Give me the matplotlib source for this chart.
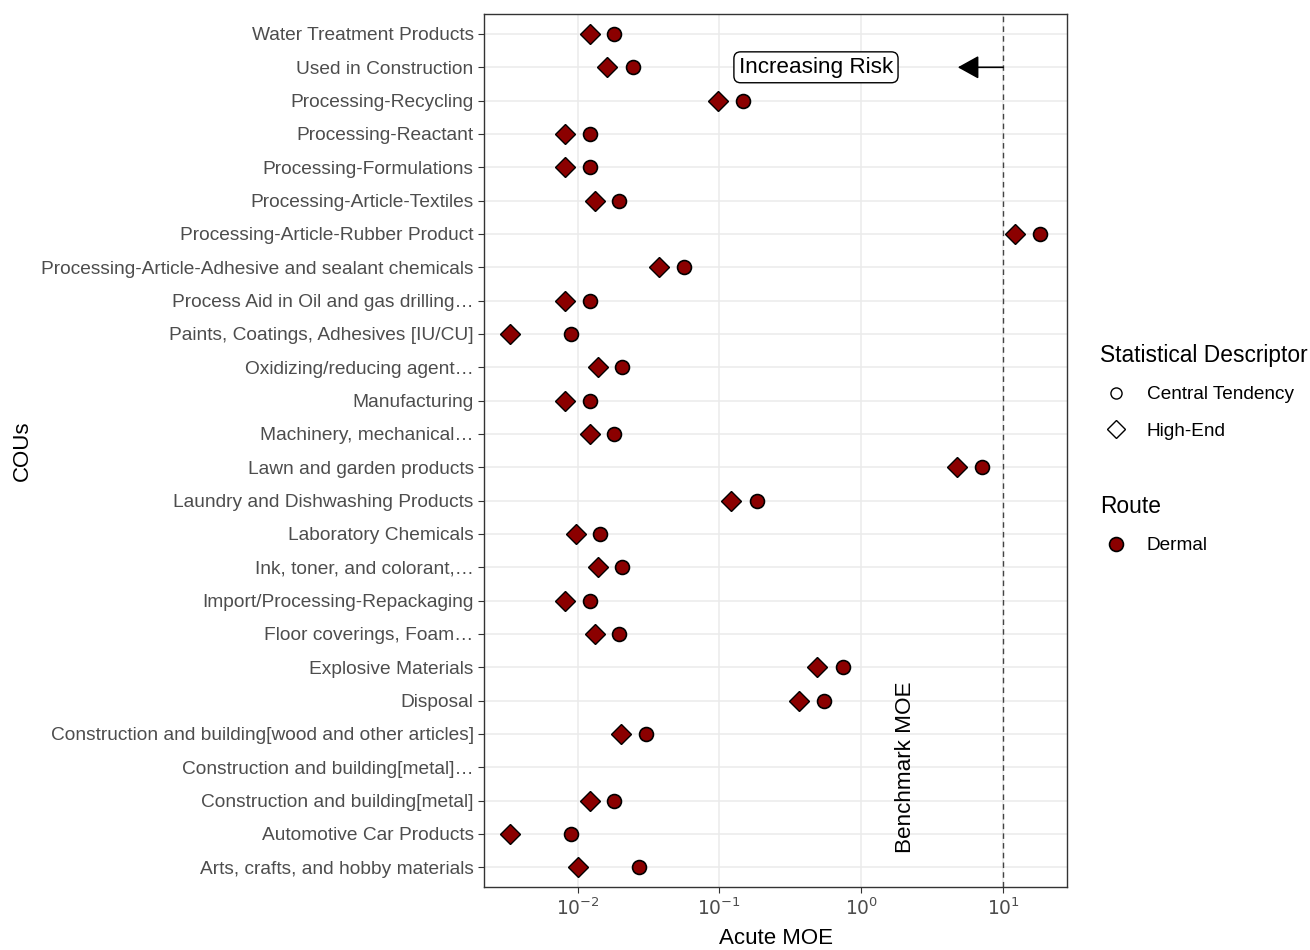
import numpy as np
import matplotlib.pyplot as plt
from matplotlib.lines import Line2D

plt.rcParams['font.family'] = ['Liberation Sans', 'DejaVu Sans']

# categories, top to bottom as shown
cous = [
    'Water Treatment Products',
    'Used in Construction',
    'Processing-Recycling',
    'Processing-Reactant',
    'Processing-Formulations',
    'Processing-Article-Textiles',
    'Processing-Article-Rubber Product',
    'Processing-Article-Adhesive and sealant chemicals',
    'Process Aid in Oil and gas drilling\u2026',
    'Paints, Coatings, Adhesives [IU/CU]',
    'Oxidizing/reducing agent\u2026',
    'Manufacturing',
    'Machinery, mechanical\u2026',
    'Lawn and garden products',
    'Laundry and Dishwashing Products',
    'Laboratory Chemicals',
    'Ink, toner, and colorant,\u2026',
    'Import/Processing-Repackaging',
    'Floor coverings, Foam\u2026',
    'Explosive Materials',
    'Disposal',
    'Construction and building[wood and other articles]',
    'Construction and building[metal]\u2026',
    'Construction and building[metal]',
    'Automotive Car Products',
    'Arts, crafts, and hobby materials',
]

# Acute MOE, dermal route
high_end = [0.0123, 0.0162, 0.098, 0.0082, 0.0082, 0.0133, 12.2, 0.0376, 0.0082,
            0.00334, 0.0140, 0.0082, 0.0123, 4.75, 0.121, 0.0098, 0.0140, 0.0082,
            0.0133, 0.489, 0.365, 0.0203, np.nan, 0.0123, 0.00334, 0.0101]
central = [0.0181, 0.0246, 0.147, 0.0123, 0.0123, 0.0196, 18.3, 0.0564, 0.0123,
           0.0090, 0.0206, 0.0123, 0.0181, 7.12, 0.184, 0.0144, 0.0206, 0.0123,
           0.0196, 0.745, 0.547, 0.0304, np.nan, 0.0181, 0.0090, 0.0272]

benchmark = 10

fill = '#8B0000'
tick_gray = '#4D4D4D'
grid_col = '#EBEBEB'

fig = plt.figure(figsize=(13.1, 9.5), dpi=100)
ax = fig.add_axes([0.3695, 0.066, 0.445, 0.9193])

n = len(cous)
ypos = np.arange(n)[::-1]

ax.plot(central, ypos, ls='', marker='o', ms=10, mfc=fill, mec='black', mew=1.2, zorder=3)
ax.plot(high_end, ypos, ls='', marker='D', ms=10.5, mfc=fill, mec='black', mew=1.0, zorder=3)

ax.set_xscale('log')
ax.set_xlim(10 ** -2.659, 10 ** 1.451)
ax.set_ylim(-0.6, n - 1 + 0.6)
ax.set_yticks(ypos)
ax.set_yticklabels(cous)
ax.set_xticks([0.01, 0.1, 1, 10])
ax.set_xticklabels([r'$10^{-2}$', r'$10^{-1}$', r'$10^{0}$', r'$10^{1}$'])
ax.xaxis.set_minor_locator(plt.NullLocator())

ax.tick_params(axis='both', colors='#333333', labelcolor=tick_gray, length=4, width=0.8)
ax.tick_params(axis='y', labelsize=13.8)
ax.tick_params(axis='x', labelsize=13.4)
ax.grid(True, color=grid_col, lw=1.1, zorder=0)
ax.set_axisbelow(True)
for s in ax.spines.values():
    s.set_color('#333333')
    s.set_linewidth(1.0)

ax.set_xlabel('Acute MOE', fontsize=16, labelpad=6)
ax.set_ylabel('COUs', fontsize=16, labelpad=6)

# benchmark line and annotations
ax.axvline(benchmark, color='#444444', ls=(0, (4, 3)), lw=1.0, zorder=2)
ax.text(2.04, ypos[22], 'Benchmark MOE', rotation=90, fontsize=16.2,
        ha='center', va='center', color='black')
ax.text(0.48, ypos[1], 'Increasing Risk', fontsize=16.2, ha='center', va='center',
        bbox=dict(boxstyle='round,pad=0.22,rounding_size=0.3', fc='white', ec='black', lw=1.0))
ax.annotate('', xy=(4.8, ypos[1]), xytext=(benchmark, ypos[1]),
            arrowprops=dict(arrowstyle='-|>,head_length=0.65,head_width=0.36',
                            mutation_scale=20, color='black', lw=1.2,
                            shrinkA=0, shrinkB=0))

# legends
stat_handles = [
    Line2D([], [], ls='', marker='o', ms=8, mfc='white', mec='black', mew=1.0),
    Line2D([], [], ls='', marker='D', ms=9, mfc='white', mec='black', mew=1.0),
]
leg1 = fig.legend(stat_handles, ['Central Tendency', 'High-End'],
                  title='Statistical Descriptor', loc='upper left',
                  bbox_to_anchor=(0.8395, 0.638), frameon=False, fontsize=13.7,
                  title_fontsize=16.4, alignment='left', borderpad=0,
                  handlelength=1.75, handletextpad=0.72, labelspacing=1.0,
                  borderaxespad=0)
route_handles = [Line2D([], [], ls='', marker='o', ms=10, mfc=fill, mec='black', mew=1.2)]
leg2 = fig.legend(route_handles, ['Dermal'], title='Route', loc='upper left',
                  bbox_to_anchor=(0.8395, 0.479), frameon=False, fontsize=13.7,
                  title_fontsize=16.4, alignment='left', borderpad=0,
                  handlelength=1.75, handletextpad=0.72, labelspacing=1.0,
                  borderaxespad=0)

fig.savefig('out.png', dpi=100)
